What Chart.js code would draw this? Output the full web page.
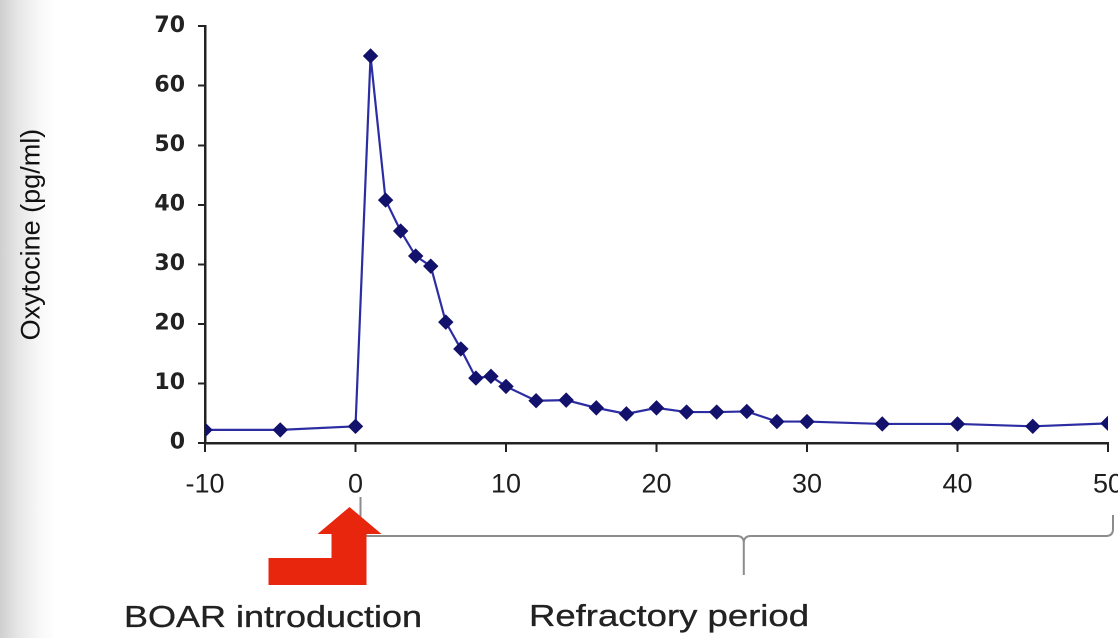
<!DOCTYPE html>
<html>
<head>
<meta charset="utf-8">
<script src="https://cdn.jsdelivr.net/npm/chart.js@4"></script>
<style>
  html, body { margin: 0; padding: 0; }
  body {
    width: 1118px; height: 638px; overflow: hidden;
    background: linear-gradient(to right, #cfcfcf 0px, #e6e6e6 18px, #f7f7f7 38px, #ffffff 55px);
  }
  #wrap { position: relative; width: 1118px; height: 638px; }
</style>
</head>
<body>
<div id="wrap"><canvas id="c"></canvas></div>
<script>
// ---- data ----
const timeMin   = [-10, -5, 0, 1, 2, 3, 4, 5, 6, 7, 8, 9, 10, 12, 14, 16, 18, 20, 22, 24, 26, 28, 30, 35, 40, 45, 50];
const oxytocin  = [2.2, 2.2, 2.8, 65, 40.8, 35.6, 31.4, 29.7, 20.3, 15.8, 10.9, 11.2, 9.5, 7.1, 7.2, 5.9, 4.9, 5.9, 5.2, 5.2, 5.3, 3.6, 3.6, 3.2, 3.2, 2.8, 3.3];
const yTitle    = 'Oxytocine (pg/ml)';
const labelBoar = 'BOAR introduction';
const labelRefr = 'Refractory period';

const points = timeMin.map((t, i) => ({ x: t, y: oxytocin[i] }));

const annotations = {
  id: 'annotations',
  afterDraw(chart) {
    const ctx = chart.ctx;
    const xs = chart.scales.x;
    const x0 = xs.getPixelForValue(0);
    const x50 = xs.getPixelForValue(50);
    const xMid = xs.getPixelForValue(25.8);
    const bx = x0 + 5;
    const by = 536;
    ctx.save();
    // bracket (refractory period)
    ctx.strokeStyle = '#8c8c8c';
    ctx.lineWidth = 2;
    ctx.beginPath();
    ctx.moveTo(bx, 497);
    ctx.lineTo(bx, by - 8);
    ctx.quadraticCurveTo(bx, by, bx + 8, by);
    ctx.lineTo(xMid - 7, by);
    ctx.quadraticCurveTo(xMid, by, xMid, by + 7);
    ctx.lineTo(xMid, 575);
    ctx.moveTo(xMid, by + 7);
    ctx.quadraticCurveTo(xMid, by, xMid + 7, by);
    ctx.lineTo(x50 - 2, by);
    ctx.quadraticCurveTo(x50 + 5, by, x50 + 5, by - 7);
    ctx.lineTo(x50 + 5, 515);
    ctx.stroke();
    // red bent arrow
    const ax = x0 - 6; // shaft centre
    ctx.fillStyle = '#e8260e';
    ctx.beginPath();
    ctx.moveTo(ax - 81, 558);
    ctx.lineTo(ax - 18, 558);
    ctx.lineTo(ax - 18, 534);
    ctx.lineTo(ax - 32, 534);
    ctx.lineTo(ax, 507);
    ctx.lineTo(ax + 32, 534);
    ctx.lineTo(ax + 17, 534);
    ctx.lineTo(ax + 17, 585);
    ctx.lineTo(ax - 81, 585);
    ctx.closePath();
    ctx.fill();
    // captions
    ctx.fillStyle = '#222';
    ctx.strokeStyle = '#222';
    ctx.lineWidth = 0.35;
    ctx.font = '31px "Liberation Sans", Arial, sans-serif';
    ctx.textBaseline = 'alphabetic';
    ctx.textAlign = 'left';
    const drawFit = (txt, left, base, width) => {
      const w = ctx.measureText(txt).width;
      ctx.save();
      ctx.translate(left, base);
      ctx.scale(width / w, 1);
      ctx.fillText(txt, 0, 0);
      ctx.strokeText(txt, 0, 0);
      ctx.restore();
    };
    drawFit(labelBoar, 124, 627, 298);
    drawFit(labelRefr, 529, 626, 280);
    ctx.restore();
  }
};

new Chart(document.getElementById('c'), {
  type: 'line',
  data: {
    datasets: [{
      data: points,
      borderColor: '#2d2da3',
      borderWidth: 2.2,
      backgroundColor: '#12126c',
      pointBackgroundColor: '#12126c',
      pointBorderColor: '#12126c',
      pointBorderWidth: 1,
      pointStyle: 'rectRot',
      pointRadius: 7,
      tension: 0,
      fill: false
    }]
  },
  options: {
    responsive: true,
    maintainAspectRatio: false,
    animation: false,
    devicePixelRatio: 2,
    layout: { padding: { top: 22, right: 10, left: 0, bottom: 0 } },
    plugins: { legend: { display: false }, tooltip: { enabled: false } },
    scales: {
      x: {
        type: 'linear',
        min: -10, max: 50,
        position: 'bottom',
        ticks: {
          stepSize: 10,
          color: '#1e1e1e',
          padding: 17,
          font: { family: '"Liberation Sans", Arial, sans-serif', size: 27 },
          maxRotation: 0
        },
        grid: { drawOnChartArea: false, tickLength: 9, color: '#222', lineWidth: 2 },
        border: { color: '#222', width: 2.5 },
        afterFit(scale) {
          scale.height = 195;
          scale.paddingLeft = 0;
          scale.paddingRight = 0;
        }
      },
      y: {
        min: 0, max: 70,
        ticks: {
          stepSize: 10,
          color: '#222',
          padding: 13,
          font: { family: '"DejaVu Sans", sans-serif', size: 22, weight: 'bold' }
        },
        grid: { drawOnChartArea: false, tickLength: 7, color: '#222', lineWidth: 2 },
        border: { color: '#222', width: 2.5 },
        title: {
          display: true,
          text: yTitle,
          color: '#111',
          font: { family: '"Liberation Sans", Arial, sans-serif', size: 27 },
          padding: { top: 16, bottom: 0 }
        },
        afterFit(scale) {
          scale.width = 205;
        }
      }
    }
  },
  plugins: [annotations]
});
</script>
</body>
</html>
